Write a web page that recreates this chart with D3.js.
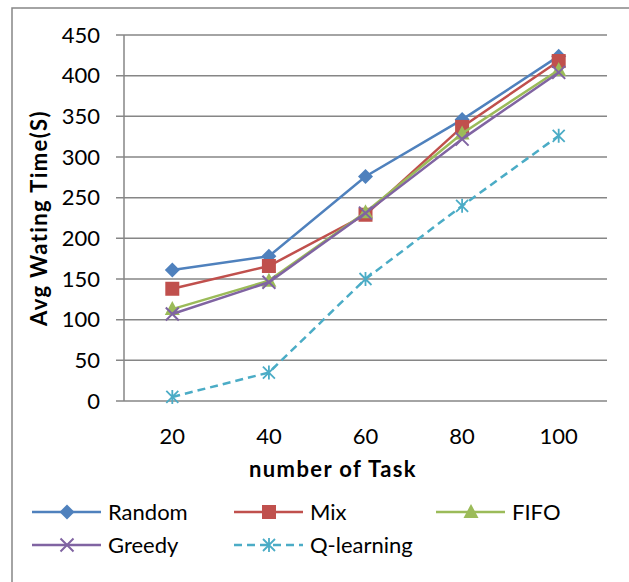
<!DOCTYPE html>
<html><head><meta charset="utf-8">
<script src="https://cdn.jsdelivr.net/npm/d3@7"></script>
<style>html,body{margin:0;padding:0;background:#fff;overflow:hidden}</style>
</head><body>
<svg id="c" width="629" height="582"></svg>
<script>
const categories = ["20","40","60","80","100"];
const seriesNames = ["Random","Mix","FIFO","Greedy","Q-learning"];
const randomVals = [161,178,276,346,424];
const mixVals    = [138,166,229,337,418];
const fifoVals   = [113,148,232,329,407];
const greedyVals = [107,146,231,322,404];
const qlearnVals = [5,35,150,240,326];
const yTicks = [0,50,100,150,200,250,300,350,400,450];
const colors = ["#4F81BD","#C0504D","#9BBB59","#8064A2","#4BACC6"];
const markers = ["diamond","square","triangle","x","star"];
const allVals = [randomVals,mixVals,fifoVals,greedyVals,qlearnVals];

const svg = d3.select("#c");
const FONT = "Lato, 'Open Sans', sans-serif";
const grid = "#868686";

// chart border (cropped at right/bottom)
svg.append("rect").attr("x",12).attr("y",8).attr("width",700).attr("height",700)
  .attr("fill","none").attr("stroke",grid).attr("stroke-width",1.5);

const L=124, R=607, T=35, B=401;
const x = d3.scaleBand().domain(categories).range([L,R]).padding(0);
const y = d3.scaleLinear().domain([0,450]).range([B,T]);

// gridlines
svg.append("g").selectAll("line").data(yTicks).join("line")
  .attr("x1",L-8).attr("x2",R).attr("y1",d=>y(d)).attr("y2",d=>y(d))
  .attr("stroke",grid).attr("stroke-width",1.5);
// y axis line
svg.append("line").attr("x1",L).attr("x2",L).attr("y1",T).attr("y2",B)
  .attr("stroke",grid).attr("stroke-width",1.5);

// y tick labels
svg.append("g").selectAll("text").data(yTicks).join("text")
  .attr("x",100).attr("y",d=>y(d)).attr("dy","0.35em").attr("text-anchor","end")
  .attr("font-family",FONT).attr("font-size",22).attr("fill","#000").text(d=>d);
// x tick labels
svg.append("g").selectAll("text").data(categories).join("text")
  .attr("x",d=>x(d)+x.bandwidth()/2).attr("y",436).attr("dy","0.35em").attr("text-anchor","middle")
  .attr("font-family",FONT).attr("font-size",22).attr("fill","#000").text(d=>d);

// axis titles
svg.append("text").attr("transform","translate(39,218) rotate(-90)").attr("dy","0.35em")
  .attr("text-anchor","middle").attr("font-family",FONT).attr("font-weight","bold")
  .attr("font-size",22).attr("letter-spacing","1.4px").text("Avg Wating Time(S)");
svg.append("text").attr("x",333).attr("y",469).attr("dy","0.35em")
  .attr("text-anchor","middle").attr("font-family",FONT).attr("font-weight","bold")
  .attr("font-size",22).attr("letter-spacing","1.4px").text("number of Task");

function drawMarker(g, type, cx, cy, color){
  if(type==="diamond"){
    g.append("path").attr("d",`M${cx},${cy-7.5}L${cx+7.5},${cy}L${cx},${cy+7.5}L${cx-7.5},${cy}Z`).attr("fill",color);
  } else if(type==="square"){
    g.append("rect").attr("x",cx-7).attr("y",cy-7).attr("width",14).attr("height",14).attr("fill",color);
  } else if(type==="triangle"){
    g.append("path").attr("d",`M${cx},${cy-8}L${cx+7.5},${cy+6}L${cx-7.5},${cy+6}Z`).attr("fill",color);
  } else if(type==="x"){
    g.append("path").attr("d",`M${cx-6.5},${cy-6.5}L${cx+6.5},${cy+6.5}M${cx-6.5},${cy+6.5}L${cx+6.5},${cy-6.5}`)
      .attr("stroke",color).attr("stroke-width",2).attr("fill","none");
  } else if(type==="star"){
    g.append("path").attr("d",`M${cx},${cy-7}L${cx},${cy+7}M${cx-6},${cy-6}L${cx+6},${cy+6}M${cx-6},${cy+6}L${cx+6},${cy-6}`)
      .attr("stroke",color).attr("stroke-width",1.8).attr("fill","none");
  }
}

const line = d3.line().x((d,i)=>x(categories[i])+x.bandwidth()/2).y(d=>y(d));
allVals.forEach((vals,si)=>{
  const g = svg.append("g");
  g.append("path").datum(vals).attr("d",line).attr("fill","none")
    .attr("stroke",colors[si]).attr("stroke-width",2.5)
    .attr("stroke-dasharray", si===4 ? "8,5" : null);
  vals.forEach((v,i)=>drawMarker(g, markers[si], x(categories[i])+x.bandwidth()/2, y(v), colors[si]));
});

// legend
const legX = [32,234,436], legY = [512,545];
seriesNames.forEach((name,i)=>{
  const col = i%3, row = Math.floor(i/3);
  const lx = legX[col], ly = legY[row];
  const g = svg.append("g");
  g.append("line").attr("x1",lx).attr("x2",lx+69).attr("y1",ly).attr("y2",ly)
    .attr("stroke",colors[i]).attr("stroke-width",2.5).attr("stroke-dasharray", i===4 ? "8,5" : null);
  drawMarker(g, markers[i], lx+35, ly, colors[i]);
  g.append("text").attr("x",lx+76).attr("y",ly).attr("dy","0.35em")
    .attr("font-family",FONT).attr("font-size",22).attr("fill","#000").text(name);
});
</script>
</body></html>
